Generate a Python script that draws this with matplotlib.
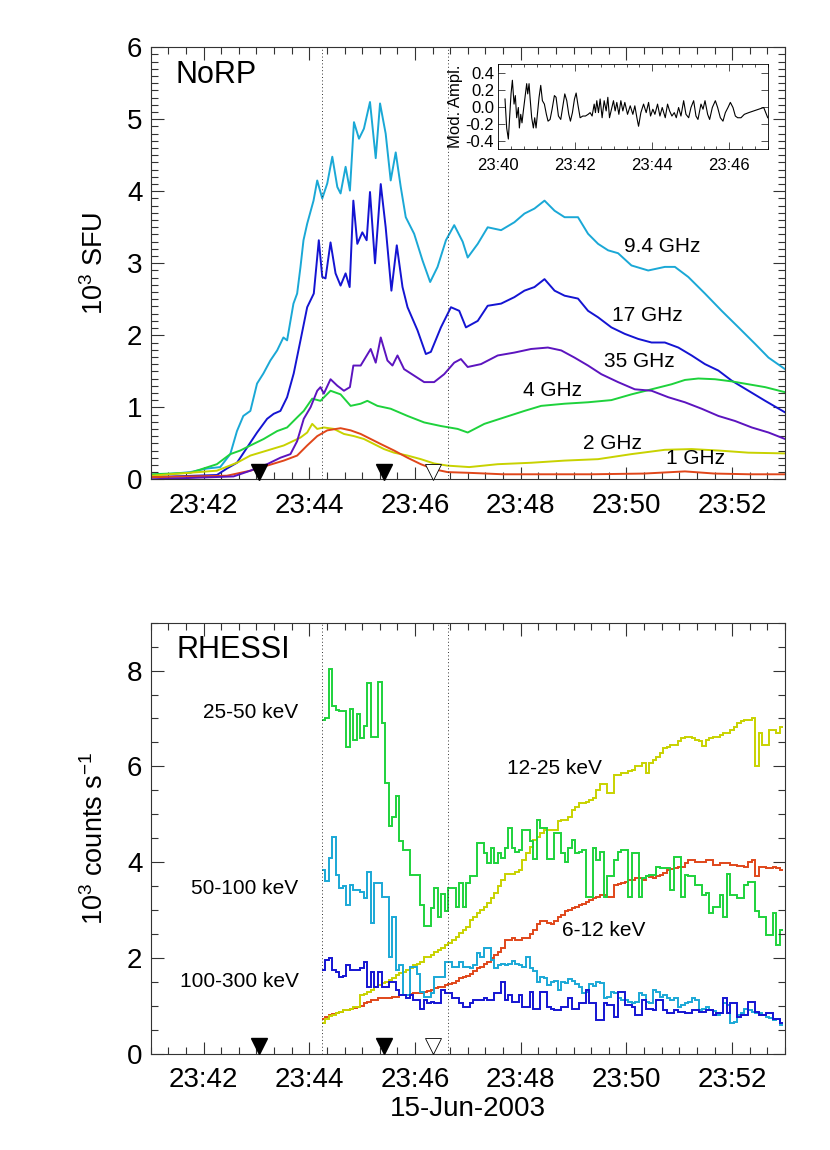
import numpy as np
import matplotlib
matplotlib.use('Agg')
import matplotlib.pyplot as plt
from matplotlib.ticker import MultipleLocator, FuncFormatter
import matplotlib.transforms as mtransforms

plt.rcParams['font.family'] = ['Liberation Sans', 'DejaVu Sans']
plt.rcParams['mathtext.fontset'] = 'custom'
plt.rcParams['mathtext.rm'] = 'Liberation Sans'
plt.rcParams['mathtext.it'] = 'Liberation Sans:italic'
plt.rcParams['mathtext.bf'] = 'Liberation Sans:bold'

# ---------------- NoRP (seconds after 23:41:00, 10^3 SFU) ----------------
t_9p4 = [0, 44.7, 63.8, 78.9, 90.3, 97.9, 105.1, 113.1, 120.7, 127.9, 135.8, 143.5, 150.6, 154.8,
         162.0, 166.2, 170.0, 173.4, 177.6, 184.8, 189.0, 194.7, 200.4, 206.1, 211.8, 215.5, 221.2,
         226.1, 230.7, 236.4, 242.0, 248.9, 255.4, 260.3, 266.7, 272.4, 278.1, 283.8, 289.5, 299.0,
         308.5, 317.2, 325.6, 335.1, 344.5, 354.1, 359.8, 371.2, 382.5, 397.7, 412.8, 424.2, 435.6,
         447.0, 458.4, 469.8, 485.0, 496.4, 507.8, 519.2, 530.5, 545.7, 564.7, 583.6, 595.0, 610.2,
         629.1, 648.1, 667.2, 686.1, 701.3, 720.0]
f_9p4 = [0.05, 0.10, 0.15, 0.17, 0.35, 0.67, 0.88, 0.95, 1.33, 1.47, 1.65, 1.79, 1.97, 1.93,
         2.44, 2.58, 2.95, 3.32, 3.55, 3.87, 4.15, 3.90, 4.11, 4.48, 4.06, 3.97, 4.34,
         4.01, 4.96, 4.73, 4.87, 5.24, 4.46, 5.22, 4.80, 4.15, 4.54, 4.06, 3.64, 3.41,
         3.04, 2.74, 2.95, 3.32, 3.53, 3.30, 3.08, 3.27, 3.50, 3.46, 3.57, 3.69, 3.76,
         3.87, 3.73, 3.64, 3.64, 3.41, 3.27, 3.18, 3.14, 2.97, 2.90, 2.95, 2.95, 2.81,
         2.58, 2.34, 2.11, 1.88, 1.69, 1.53]

t_17 = [0, 75.1, 86.5, 97.9, 109.3, 120.7, 132.1, 139.6, 147.2, 154.8, 162.3, 170.0, 177.6, 185.1,
        190.8, 194.7, 198.4, 204.1, 209.8, 215.5, 221.2, 225.8, 230.0, 234.5, 240.2, 245.1, 248.9,
        254.6, 261.1, 266.7, 273.2, 279.3, 285.8, 291.5, 302.8, 312.3, 318.0, 329.4, 340.8, 350.2,
        357.8, 371.2, 382.5, 397.7, 412.8, 424.2, 435.6, 447.0, 458.4, 469.8, 485.0, 496.4, 507.8,
        522.9, 538.1, 553.3, 568.5, 583.6, 598.9, 614.0, 629.1, 644.4, 659.5, 678.5, 697.5, 720.0]
f_17 = [0.03, 0.06, 0.15, 0.23, 0.44, 0.65, 0.84, 0.91, 0.95, 1.14, 1.47, 1.93, 2.39, 2.58,
        3.32, 2.81, 2.79, 3.29, 2.86, 2.69, 2.86, 2.67, 3.87, 3.27, 3.43, 3.32, 3.99,
        3.00, 4.10, 3.50, 2.62, 3.25, 2.67, 2.39, 2.07, 1.74, 1.77, 2.11, 2.39, 2.34,
        2.11, 2.20, 2.41, 2.44, 2.53, 2.62, 2.67, 2.78, 2.62, 2.55, 2.51, 2.34, 2.25,
        2.11, 2.02, 1.95, 1.90, 1.90, 1.83, 1.72, 1.60, 1.51, 1.37, 1.23, 1.09, 0.93]

t_35 = [0, 94.0, 113.1, 132.1, 147.2, 158.6, 166.2, 173.7, 181.4, 189.0, 192.7, 196.5, 204.1, 211.8,
        219.3, 226.1, 230.0, 238.3, 249.7, 255.4, 261.1, 268.7, 274.4, 280.1, 287.6, 299.0, 310.4,
        321.7, 333.1, 344.5, 352.1, 359.8, 374.9, 393.9, 412.8, 431.8, 450.8, 466.0, 481.1, 496.4,
        511.5, 530.5, 549.5, 568.5, 587.5, 606.4, 625.4, 644.4, 663.3, 682.3, 701.3, 720.0]
f_35 = [0.00, 0.04, 0.12, 0.21, 0.30, 0.35, 0.53, 0.84, 1.00, 1.23, 1.28, 1.19, 1.39, 1.30,
        1.23, 1.28, 1.58, 1.58, 1.81, 1.62, 1.97, 1.65, 1.58, 1.72, 1.53, 1.44, 1.35,
        1.35, 1.46, 1.62, 1.67, 1.56, 1.60, 1.72, 1.76, 1.81, 1.83, 1.79, 1.69, 1.58,
        1.46, 1.35, 1.25, 1.23, 1.14, 1.07, 0.98, 0.88, 0.81, 0.72, 0.65, 0.56]

t_4 = [0, 44.7, 75.1, 90.3, 101.7, 113.1, 128.2, 143.5, 154.8, 166.2, 173.7, 183.3, 192.7, 204.1,
       215.5, 226.9, 238.3, 245.9, 257.3, 272.4, 291.5, 310.4, 329.4, 348.4, 359.8, 378.7, 401.4,
       424.2, 443.2, 469.8, 496.4, 522.9, 545.7, 568.5, 591.2, 606.4, 621.6, 640.5, 659.5, 678.5,
       697.5, 720.0]
f_4 = [0.07, 0.09, 0.21, 0.35, 0.40, 0.47, 0.56, 0.67, 0.72, 0.86, 0.95, 1.12, 1.09, 1.23,
       1.18, 1.02, 1.05, 1.09, 1.02, 0.98, 0.88, 0.79, 0.74, 0.70, 0.65, 0.77, 0.86,
       0.95, 1.02, 1.05, 1.07, 1.10, 1.18, 1.25, 1.32, 1.38, 1.40, 1.39, 1.36, 1.32,
       1.28, 1.21]

t_2 = [0, 75.1, 97.9, 113.1, 132.1, 151.0, 170.0, 177.6, 183.3, 189.0, 196.5, 207.9, 219.3, 230.7,
       242.0, 253.4, 264.8, 276.2, 291.5, 306.6, 321.7, 337.0, 361.6, 393.9, 431.8, 469.8, 507.8,
       545.7, 583.6, 614.0, 644.4, 678.5, 720.0]
f_2 = [0.05, 0.12, 0.23, 0.33, 0.40, 0.47, 0.58, 0.65, 0.77, 0.70, 0.72, 0.70, 0.63, 0.60,
       0.56, 0.49, 0.42, 0.37, 0.33, 0.28, 0.22, 0.19, 0.17, 0.21, 0.23, 0.26, 0.28,
       0.35, 0.41, 0.42, 0.40, 0.37, 0.36]

t_1 = [0, 86.5, 113.1, 132.1, 151.0, 166.2, 177.6, 189.0, 200.4, 215.5, 226.9, 238.3, 249.7, 261.1,
       276.2, 291.5, 306.6, 321.7, 337.0, 361.6, 400.0, 500.0, 560.0, 606.4, 640.0, 680.0, 720.0]
f_1 = [0.03, 0.05, 0.12, 0.19, 0.26, 0.33, 0.47, 0.60, 0.68, 0.71, 0.68, 0.63, 0.56, 0.49,
       0.40, 0.30, 0.21, 0.14, 0.10, 0.09, 0.07, 0.07, 0.08, 0.11, 0.08, 0.07, 0.07]

# ---------------- inset: modulation amplitude (seconds after 23:40:00) ----------------
t_mod = [10.4, 13.0, 15.6, 18.2, 19.8, 21.9, 24.5, 26.5, 28.6, 31.2, 32.8, 34.9, 36.9, 39.0,
         41.6, 44.2, 45.8, 47.9, 49.4, 52.0, 54.6, 56.7, 58.8, 60.9, 63.5, 66.1, 68.7, 71.8,
         74.9, 77.5, 80.7, 83.8, 87.4, 90.0, 93.7, 97.3, 101.5, 103.6, 106.7, 109.8, 112.4,
         115.5, 118.7, 121.3, 123.9, 127.5, 131.7, 135.8, 140.0, 143.1, 146.2, 149.4, 151.4,
         153.5, 156.1, 158.7, 161.8, 165.0, 168.1, 170.7, 173.3, 176.4, 179.5, 182.1, 184.7,
         187.9, 191.0, 194.1, 197.2, 201.4, 205.6, 209.7, 212.8, 216.0, 218.6, 222.2, 226.4,
         230.5, 234.2, 237.3, 240.9, 244.1, 248.2, 251.9, 255.5, 260.2, 263.8, 267.0, 270.6,
         274.3, 277.4, 281.0, 284.7, 288.9, 292.5, 296.7, 300.3, 304.5, 308.1, 311.2, 315.9,
         319.1, 322.2, 326.3, 329.4, 333.6, 338.3, 341.9, 346.1, 350.2, 353.9, 358.0, 361.7,
         365.8, 369.5, 373.1, 378.3, 383.5, 390.3, 398.1, 405.9, 413.7, 417.9, 420.0]
v_mod = [0.09, -0.25, -0.38, -0.05, 0.15, 0.31, 0.03, 0.13, -0.13, -0.01, -0.25, -0.09, -0.19, -0.05,
         0.11, 0.27, 0.15, 0.27, 0.11, -0.13, -0.25, -0.13, -0.25, -0.09, 0.11, 0.25, 0.07, 0.03,
         -0.09, -0.17, -0.15, -0.03, 0.13, 0.11, -0.11, -0.15, 0.05, 0.15, 0.07, -0.09, -0.17,
         -0.07, 0.09, 0.16, 0.03, -0.13, -0.11, -0.11, -0.09, -0.07, -0.11, 0.03, -0.07,
         0.07, -0.07, 0.09, -0.13, 0.07, -0.05, 0.11, -0.13, -0.03, 0.07, -0.05, 0.05,
         -0.09, 0.07, -0.05, 0.05, -0.09, 0.01, -0.09, 0.01, -0.13, -0.23, -0.07, 0.03,
         -0.07, 0.05, -0.11, -0.03, -0.09, 0.03, -0.11, -0.01, -0.13, 0.03, -0.05, -0.11,
         -0.07, -0.13, -0.01, -0.11, 0.07, -0.09, -0.13, -0.01, 0.07, -0.11, -0.15, 0.03,
         -0.03, 0.07, -0.09, -0.15, -0.01, 0.07, -0.01, -0.13, -0.17, -0.07, -0.01, 0.05,
         -0.01, -0.11, -0.13, -0.13, -0.09, -0.07, -0.05, -0.03, -0.01, -0.09, -0.13]

# ---------------- RHESSI (4 s bins from 23:44:14, 10^3 counts/s) ----------------
rh_start_min = 44 + 14 / 60.0
rh_bin_s = 4.0
r_6_12 = [0.73, 0.77, 0.80, 0.82, 0.84, 0.87, 0.91, 0.91, 0.94, 0.96,
          0.98, 1.00, 1.05, 1.08, 1.12, 1.12, 1.15, 1.15, 1.15, 1.17,
          1.19, 1.19, 1.22, 1.22, 1.22, 1.24, 1.26, 1.26, 1.26, 1.29,
          1.31, 1.33, 1.36, 1.38, 1.40, 1.43, 1.45, 1.47, 1.52, 1.57,
          1.60, 1.62, 1.67, 1.72, 1.78, 1.81, 1.88, 1.92, 2.00, 2.06,
          2.13, 2.20, 2.37, 2.37, 2.41, 2.37, 2.37, 2.41, 2.41, 2.50,
          2.58, 2.70, 2.76, 2.76, 2.72, 2.70, 2.76, 2.86, 2.90, 2.97,
          3.00, 3.05, 3.07, 3.10, 3.12, 3.17, 3.20, 3.24, 3.28, 3.31,
          3.31, 3.28, 3.28, 3.52, 3.55, 3.57, 3.59, 3.63, 3.63, 3.66,
          3.66, 3.63, 3.70, 3.68, 3.66, 3.70, 3.73, 3.78, 3.84, 3.86,
          3.87, 3.90, 3.90, 3.97, 4.04, 4.04, 4.01, 4.01, 4.01, 4.04,
          4.04, 3.94, 3.94, 3.97, 3.97, 3.97, 3.94, 3.94, 3.92, 3.92,
          3.90, 4.01, 4.04, 3.70, 3.90, 3.90, 3.87, 3.87, 3.90, 3.87, 3.84]
r_12_25 = [0.63, 0.72, 0.78, 0.80, 0.84, 0.87, 0.91, 0.91, 0.94, 0.98,
           0.98, 1.22, 1.25, 1.29, 1.33, 1.40, 1.43, 1.47, 1.50, 1.54,
           1.57, 1.64, 1.68, 1.71, 1.75, 1.78, 1.85, 1.88, 1.92, 2.02,
           2.02, 2.06, 2.13, 2.16, 2.20, 2.27, 2.30, 2.37, 2.44, 2.51,
           2.58, 2.65, 2.79, 2.86, 2.93, 3.00, 3.07, 3.14, 3.24, 3.35,
           3.49, 3.62, 3.76, 3.76, 3.76, 3.80, 3.84, 4.04, 4.18, 4.32,
           4.46, 4.53, 4.60, 4.67, 4.67, 4.67, 4.67, 4.85, 4.88, 4.88,
           4.95, 5.09, 5.16, 5.23, 5.23, 5.26, 5.30, 5.33, 5.50, 5.64,
           5.64, 5.44, 5.44, 5.82, 5.82, 5.86, 5.86, 5.90, 5.93, 6.00,
           6.00, 6.06, 5.86, 6.06, 6.13, 6.20, 6.27, 6.38, 6.40, 6.45,
           6.45, 6.52, 6.59, 6.62, 6.62, 6.59, 6.55, 6.52, 6.43, 6.55,
           6.59, 6.62, 6.62, 6.66, 6.69, 6.69, 6.76, 6.83, 6.90, 6.94,
           6.97, 6.97, 7.00, 6.00, 6.69, 6.45, 6.45, 6.76, 6.76, 6.69, 6.83]
r_25_50 = [6.97, 7.00, 8.04, 7.25, 7.18, 7.15, 7.15, 6.40, 7.20, 6.55,
           7.10, 6.60, 6.85, 7.75, 6.62, 6.62, 7.77, 6.90, 5.66, 4.75,
           4.95, 5.39, 4.43, 4.25, 4.25, 3.73, 3.73, 3.73, 3.10, 2.66,
           2.66, 3.03, 3.45, 2.86, 3.34, 2.97, 3.45, 3.45, 3.07, 3.56,
           3.07, 3.56, 3.70, 3.70, 4.39, 4.39, 4.18, 3.97, 4.29, 3.97,
           4.18, 4.08, 4.29, 4.71, 4.29, 4.22, 4.25, 4.67, 4.67, 4.43,
           4.06, 4.88, 4.71, 4.71, 4.06, 4.06, 4.60, 4.60, 4.18, 4.01,
           4.29, 4.46, 4.18, 4.22, 4.25, 3.28, 3.28, 4.29, 4.04, 4.22,
           3.28, 3.70, 3.70, 4.04, 4.22, 4.25, 4.25, 3.28, 4.18, 4.18,
           3.28, 3.66, 3.70, 3.73, 3.73, 3.90, 3.87, 3.87, 3.87, 3.42,
           4.11, 4.11, 3.28, 3.73, 3.70, 3.70, 3.52, 3.52, 3.31, 3.35,
           2.93, 3.07, 3.07, 3.31, 2.86, 3.76, 3.31, 3.31, 3.24, 3.24,
           3.52, 3.59, 3.59, 2.97, 2.86, 2.86, 2.48, 2.48, 2.93, 2.27, 2.58]
r_50_100 = [3.84, 3.60, 4.08, 4.52, 3.73, 3.45, 3.49, 3.10, 3.52, 3.42,
            3.42, 3.38, 3.24, 3.80, 2.72, 3.56, 3.56, 3.28, 3.28, 2.02,
            2.86, 1.75, 1.85, 1.22, 1.22, 1.81, 1.81, 1.67, 1.29, 1.19,
            1.19, 1.26, 1.60, 1.60, 1.60, 1.92, 1.92, 1.81, 1.81, 1.92,
            1.81, 1.81, 1.78, 1.85, 2.09, 2.02, 2.20, 2.20, 1.95, 1.78,
            1.85, 1.88, 1.84, 1.88, 1.93, 1.88, 1.85, 1.81, 2.02, 1.78,
            1.72, 1.50, 1.60, 1.57, 1.43, 1.50, 1.52, 1.33, 1.50, 1.47,
            1.55, 1.52, 1.45, 1.40, 1.26, 1.29, 1.45, 1.41, 1.50, 1.47,
            1.15, 1.19, 1.29, 1.26, 1.15, 1.12, 1.12, 1.08, 1.05, 1.08,
            1.26, 1.22, 1.08, 1.05, 1.33, 1.29, 1.19, 1.22, 1.15, 1.12,
            1.15, 0.98, 1.01, 1.05, 1.08, 1.15, 1.12, 0.91, 0.94, 0.97,
            0.91, 0.88, 0.80, 0.84, 1.05, 1.01, 0.63, 0.66, 0.80, 0.84,
            0.94, 0.91, 0.87, 0.84, 0.84, 0.80, 0.77, 0.74, 0.70, 0.73, 0.59]
r_100_300 = [1.75, 1.95, 1.99, 1.75, 1.71, 1.59, 1.62, 1.85, 1.75, 1.75,
             1.75, 1.78, 1.92, 1.40, 1.71, 1.40, 1.71, 1.40, 1.40, 1.50,
             1.50, 1.33, 1.22, 1.22, 1.15, 1.22, 1.12, 1.12, 0.94, 1.12,
             1.05, 1.08, 1.05, 1.05, 1.33, 1.26, 1.26, 1.15, 1.15, 1.05,
             0.98, 0.98, 1.05, 1.12, 1.12, 1.12, 1.15, 1.12, 1.12, 1.26,
             1.26, 1.50, 1.12, 1.22, 1.08, 1.08, 1.22, 0.98, 0.98, 1.29,
             0.94, 0.94, 1.29, 1.29, 0.98, 0.94, 0.91, 0.91, 0.98, 0.98,
             1.15, 0.94, 0.94, 1.05, 1.05, 1.33, 1.05, 1.05, 0.70, 0.70,
             1.05, 1.01, 1.01, 0.77, 1.29, 1.29, 1.01, 1.01, 0.98, 0.80,
             0.80, 1.12, 0.94, 0.94, 0.91, 1.12, 1.12, 0.91, 0.84, 0.84,
             0.91, 0.87, 0.87, 0.84, 0.84, 0.91, 0.91, 0.87, 0.87, 0.91,
             0.91, 0.80, 0.84, 0.84, 1.15, 0.84, 1.05, 1.05, 0.77, 0.80,
             0.80, 1.08, 1.08, 0.87, 0.80, 0.80, 0.84, 0.84, 0.73, 0.73, 0.63]

# markers / reference times (minutes after 23:00)
vlines_min = [44 + 14 / 60.0, 46 + 37 / 60.0]
tri_filled_min = [43 + 3 / 60.0, 45 + 25 / 60.0]
tri_open_min = [46 + 20 / 60.0]

C_CYAN = '#1aa8d6'
C_BLUE = '#1414d2'
C_PURP = '#5c14bf'
C_GREEN = '#1ed23c'
C_YEL = '#c8d200'
C_RED = '#e0461a'


def hhmm(v, pos):
    return "23:%02d" % int(round(v))


def style_main(ax, ymaj, ymin_):
    ax.set_xlim(41, 53)
    ax.xaxis.set_major_locator(MultipleLocator(2))
    ax.xaxis.set_minor_locator(MultipleLocator(1 / 3.0))
    ax.xaxis.set_major_formatter(FuncFormatter(hhmm))
    ax.yaxis.set_major_locator(MultipleLocator(ymaj))
    ax.yaxis.set_minor_locator(MultipleLocator(ymin_))
    ax.tick_params(which='both', direction='in', top=True, right=True,
                   labelsize=20, color='#333333')
    ax.tick_params(which='major', length=9, width=0.8)
    ax.tick_params(axis='x', which='major', pad=10)
    ax.tick_params(axis='y', which='major', pad=6)
    ax.tick_params(which='minor', length=5, width=0.8)
    for s in ax.spines.values():
        s.set_linewidth(0.8)
        s.set_color('#333333')
    for xv in vlines_min:
        ax.axvline(xv, color='#333333', lw=0.7, ls=(0, (1, 2.5)))
    tr = mtransforms.blended_transform_factory(ax.transData, ax.transAxes)
    ax.plot(tri_filled_min, [0.018] * len(tri_filled_min), 'v', ms=11, color='black',
            transform=tr, clip_on=False, zorder=5)
    ax.plot(tri_open_min, [0.018] * len(tri_open_min), 'v', ms=11, mfc='white',
            mec='black', mew=0.6, transform=tr, clip_on=False, zorder=5)


fig = plt.figure(figsize=(8.3, 11.5), dpi=100)

# ---------------- top panel ----------------
ax1 = fig.add_axes([0.1816, 0.5832, 0.7642, 0.3757])
for t, f, c in [(t_9p4, f_9p4, C_CYAN), (t_17, f_17, C_BLUE), (t_4, f_4, C_GREEN),
                (t_2, f_2, C_YEL), (t_1, f_1, C_RED), (t_35, f_35, C_PURP)]:
    ax1.plot(41 + np.asarray(t) / 60.0, f, color=c, lw=1.4)
ax1.set_ylim(0, 6)
style_main(ax1, 1, 0.1)
ax1.set_ylabel(r"10$^{3}$ SFU", fontsize=19.5)
ax1.yaxis.set_label_coords(-0.066, 0.5)
ax1.text(41.46, 5.62, "NoRP", fontsize=22, ha='left', va='center')
for s, x, y in [("9.4 GHz", 50.68, 3.24), ("17 GHz", 50.40, 2.28), ("35 GHz", 50.25, 1.63),
                ("4 GHz", 48.61, 1.24), ("2 GHz", 49.73, 0.50), ("1 GHz", 51.31, 0.29)]:
    ax1.text(x, y, s, fontsize=15, ha='center', va='center')

# ---------------- inset ----------------
axi = fig.add_axes([0.6004, 0.8702, 0.3246, 0.0741])
axi.plot(40 + np.asarray(t_mod) / 60.0, v_mod, color='black', lw=0.8)
axi.set_xlim(40, 47)
axi.set_ylim(-0.5, 0.5)
axi.xaxis.set_major_locator(MultipleLocator(2))
axi.xaxis.set_minor_locator(MultipleLocator(1 / 3.0))
axi.xaxis.set_major_formatter(FuncFormatter(hhmm))
axi.yaxis.set_major_locator(MultipleLocator(0.2))
axi.yaxis.set_major_formatter(FuncFormatter(lambda v, p: "0.0" if abs(v) < 1e-9 else "%.1f" % v))
axi.tick_params(which='both', direction='in', top=True, right=True, labelsize=12, color='#333333')
axi.tick_params(which='major', length=5, width=0.6)
axi.tick_params(which='minor', length=2.5, width=0.6)
axi.tick_params(axis='x', which='major', pad=6)
axi.tick_params(axis='y', which='major', pad=3)
for s in axi.spines.values():
    s.set_linewidth(0.6)
axi.set_ylabel("Mod. Ampl.", fontsize=12, labelpad=2)

# ---------------- bottom panel ----------------
ax2 = fig.add_axes([0.1816, 0.0839, 0.7642, 0.3746])
for vals, c in [(r_6_12, C_RED), (r_12_25, C_YEL), (r_25_50, C_GREEN),
                (r_50_100, C_CYAN), (r_100_300, C_BLUE)]:
    n = len(vals)
    edges = rh_start_min + np.arange(n + 1) * rh_bin_s / 60.0
    ax2.stairs(vals, edges, color=c, lw=1.4, baseline=None)
ax2.set_ylim(0, 9)
style_main(ax2, 2, 0.5)
ax2.set_ylabel(r"10$^{3}$ counts s$^{-1}$", fontsize=19.5)
ax2.yaxis.set_label_coords(-0.066, 0.5)
ax2.set_xlabel("15-Jun-2003", fontsize=20, labelpad=2)
ax2.text(41.48, 8.43, "RHESSI", fontsize=22, ha='left', va='center')
for s, y in [("25-50 keV", 7.13), ("50-100 keV", 3.44), ("100-300 keV", 1.51)]:
    ax2.text(43.795, y, s, fontsize=15, ha='right', va='center')
ax2.text(48.63, 5.96, "12-25 keV", fontsize=15, ha='center', va='center')
ax2.text(49.57, 2.58, "6-12 keV", fontsize=15, ha='center', va='center')

fig.savefig("out.png", dpi=100)
